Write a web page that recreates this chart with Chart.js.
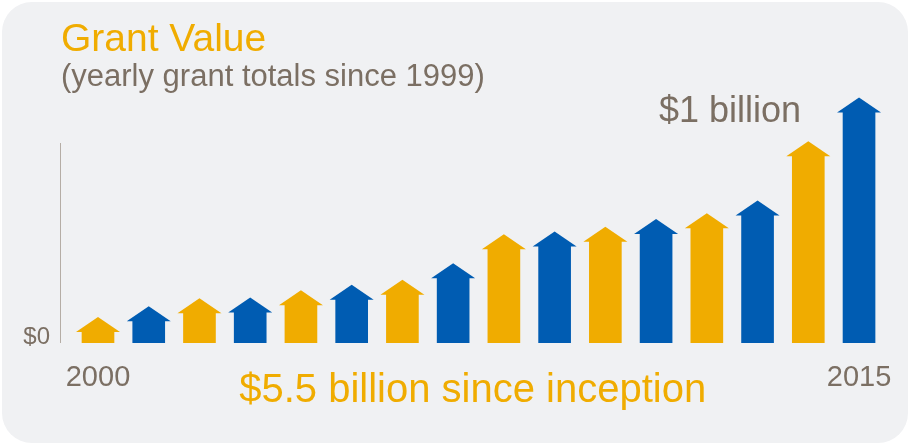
<!DOCTYPE html>
<html><head><meta charset="utf-8">
<script src="https://cdn.jsdelivr.net/npm/chart.js@4.4.0/dist/chart.umd.min.js"></script>
<style>
html,body{margin:0;padding:0;background:#ffffff;}
#wrap{position:relative;width:910px;height:445px;overflow:hidden;}
#card{position:absolute;left:2px;top:2px;width:906px;height:441px;border-radius:30px;background:#f0f1f3;}
canvas{position:absolute;left:0;top:0;}
</style></head><body>
<div id="wrap"><div id="card"></div><canvas id="c" width="910" height="445" style="width:910px;height:445px"></canvas></div>
<script>
// ---- data ----
const years = [2000,2001,2002,2003,2004,2005,2006,2007,2008,2009,2010,2011,2012,2013,2014,2015];
const grantValues = [49,95,130,133,165,188,210,282,407,419,440,474,498,554,811,1000]; // $ millions (estimated)
const xTickValues = [2000, 2015];
const xTickLabels = ['2000', '2015'];
const yTickValues = [0];
const yTickLabels = ['$0'];
const titleText = 'Grant Value';
const subtitleText = '(yearly grant totals since 1999)';
const peakLabel = '$1 billion';
const totalLabel = '$5.5 billion since inception';

// ---- style ----
const YELLOW = '#f0ac00';
const BLUE = '#005cb2';
const GREY = '#7b6f63';
const FONT = "'Liberation Sans', Arial, Helvetica, sans-serif";
const barColors = years.map((_, i) => i % 2 === 0 ? YELLOW : BLUE);

const arrowHeads = {
  id: 'arrowHeads',
  afterDatasetsDraw(chart) {
    const ctx = chart.ctx;
    const meta = chart.getDatasetMeta(0);
    ctx.save();
    meta.data.forEach((bar) => {
      const p = bar.getProps(['x', 'y', 'width'], true);
      const half = p.width / 2 + 6;
      ctx.fillStyle = bar.options.backgroundColor;
      ctx.beginPath();
      ctx.moveTo(p.x - half, p.y + 0.5);
      ctx.lineTo(p.x, p.y - 14.5);
      ctx.lineTo(p.x + half, p.y + 0.5);
      ctx.closePath();
      ctx.fill();
    });
    // peak annotation next to the last bar
    const last = meta.data[meta.data.length - 1];
    if (last) {
      const lp = last.getProps(['x', 'y'], true);
      ctx.fillStyle = GREY;
      ctx.font = '36px ' + FONT;
      ctx.textAlign = 'right';
      ctx.textBaseline = 'middle';
      ctx.fillText(peakLabel, lp.x - 58, lp.y);
    }
    ctx.restore();
  }
};

new Chart(document.getElementById('c'), {
  type: 'bar',
  data: {
    datasets: [{
      data: years.map((y, i) => ({ x: y, y: grantValues[i] })),
      backgroundColor: barColors,
      borderWidth: 0,
      barThickness: 32,
      clip: false
    }]
  },
  options: {
    responsive: false,
    animation: false,
    layout: { padding: { left: 12.3, right: 25.6, top: 0, bottom: 30 } },
    plugins: {
      legend: { display: false },
      tooltip: { enabled: false },
      title: {
        display: true, text: titleText, align: 'start', fullSize: false,
        color: YELLOW, font: { family: FONT, size: 39, weight: 'normal', lineHeight: 1.2 },
        padding: { top: 16.6, bottom: 0 }
      },
      subtitle: {
        display: true, text: subtitleText, align: 'start', fullSize: false,
        color: GREY, font: { family: FONT, size: 31, weight: 'normal', lineHeight: 1.2 },
        padding: { top: -5, bottom: 47.4 }
      }
    },
    scales: {
      x: {
        type: 'linear',
        offset: false,
        min: 1999.2707,
        max: 2015.5,
        grid: { display: false, drawTicks: false, offset: false },
        border: { display: false },
        afterBuildTicks: (axis) => { axis.ticks = xTickValues.map(v => ({ value: v })); },
        ticks: {
          autoSkip: false, maxRotation: 0, padding: 17.9,
          color: GREY, font: { family: FONT, size: 29, lineHeight: 1.2 },
          callback: (v) => xTickLabels[xTickValues.indexOf(v)]
        },
        title: {
          display: true, text: totalLabel, color: YELLOW,
          font: { family: FONT, size: 40, lineHeight: 1.2 },
          padding: { top: -46.3, bottom: 0 }
        }
      },
      y: {
        min: 0,
        max: 866,
        grid: { display: false, drawTicks: false },
        border: { display: true, color: '#b5ada5', width: 1 },
        afterBuildTicks: (axis) => { axis.ticks = yTickValues.map(v => ({ value: v })); },
        ticks: {
          padding: 11, labelOffset: -5,
          color: GREY, font: { family: FONT, size: 24, lineHeight: 1.2 },
          callback: (v) => yTickLabels[yTickValues.indexOf(v)]
        }
      }
    }
  },
  plugins: [arrowHeads]
});
</script>
</body></html>
